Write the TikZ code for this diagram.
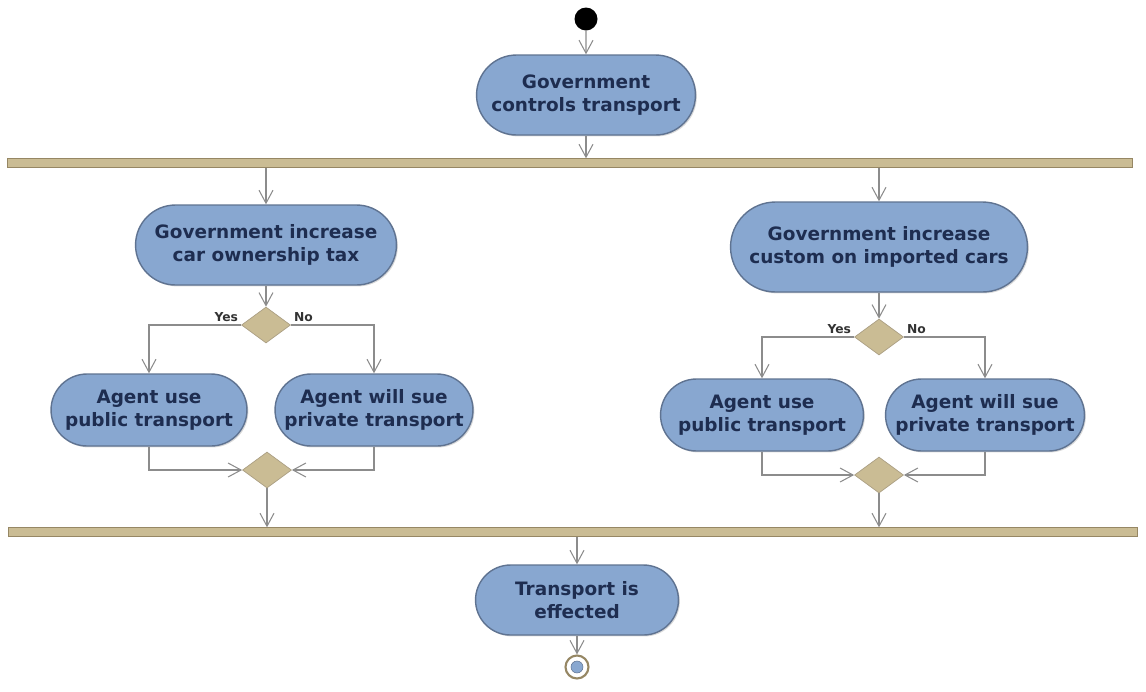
\documentclass[tikz,border=0pt]{standalone}
\usepackage{fontspec}
\setmainfont{DejaVu Sans}
\usetikzlibrary{shapes.misc,shapes.geometric,arrows.meta,shadows}

\definecolor{actblue}{RGB}{136,167,208}
\definecolor{actedge}{RGB}{95,115,145}
\definecolor{acttext}{RGB}{30,45,80}
\definecolor{tan}{RGB}{202,188,148}
\definecolor{tanedge}{RGB}{150,135,100}
\definecolor{flowgray}{RGB}{140,140,140}

\tikzset{
    activity/.style={rounded rectangle, fill=actblue, draw=actedge, line width=0.8pt,
        text=acttext, align=center, inner sep=2pt,
        font=\fontsize{10.5}{13}\selectfont\bfseries,
        drop shadow={shadow xshift=0.8pt, shadow yshift=-0.8pt, opacity=0.3}},
    decision/.style={diamond, fill=tan, draw=tanedge!80, line width=0.4pt,
        minimum width=0.98cm, minimum height=0.72cm, inner sep=0pt},
    syncbar/.style={rectangle, fill=tan, draw=tanedge, line width=0.5pt,
        minimum height=0.17cm, inner sep=0pt},
    flow/.style={draw=flowgray, line width=0.6pt,
        -{Straight Barb[length=2.6mm, width=2.8mm, line width=0.6pt]}},
    guard/.style={font=\fontsize{7}{8}\selectfont\bfseries, text=black!80, inner sep=1.5pt}
}

\begin{document}
\begin{tikzpicture}[x=0.02cm, y=-0.02cm]
        \useasboundingbox (0,0) rectangle (1146,691);

        \node[circle, fill=black, minimum size=0.46cm, inner sep=0pt] (start) at (586,19) {};
        \node[activity, minimum width=4.52cm, minimum height=1.6cm] (ctrl) at (586,95) {Government\\controls transport};

        \node[syncbar, minimum width=22.5cm] (fork) at (570,163) {};

        % left branch
        \node[activity, minimum width=5.36cm, minimum height=1.6cm] (tax) at (266,245) {Government increase\\car ownership tax};
        \node[decision] (decL) at (266,325) {};
        \node[activity, minimum width=4.06cm, minimum height=1.44cm] (pubL) at (149,410) {Agent use\\public transport};
        \node[activity, minimum width=4.1cm, minimum height=1.44cm] (privL) at (374,410) {Agent will sue\\private transport};
        \node[decision] (mergeL) at (267,470) {};

        % right branch
        \node[activity, minimum width=6.08cm, minimum height=1.8cm] (custom) at (879,247) {Government increase\\custom on imported cars};
        \node[decision] (decR) at (879,337) {};
        \node[activity, minimum width=4.2cm, minimum height=1.44cm] (pubR) at (762,415) {Agent use\\public transport};
        \node[activity, minimum width=4.12cm, minimum height=1.44cm] (privR) at (985,415) {Agent will sue\\private transport};
        \node[decision] (mergeR) at (879,475) {};

        \node[syncbar, minimum width=22.6cm] (join) at (573,532) {};

        \node[activity, minimum width=4.2cm, minimum height=1.4cm] (effect) at (577,600) {Transport is\\effected};
        \node[circle, draw=tanedge, fill=white, line width=1.2pt, minimum size=0.46cm, inner sep=0pt] (end) at (577,667) {};
        \node[circle, fill=actblue, draw=actedge, line width=0.3pt, minimum size=0.24cm, inner sep=0pt] at (end) {};

        \draw[flow] (start) -- (ctrl);
        \draw[flow] (ctrl.south) -- (ctrl.south |- fork.north);
        \draw[flow] (fork.south -| tax.north) -- (tax.north);
        \draw[flow] (fork.south -| custom.north) -- (custom.north);

        \draw[flow] (tax.south) -- (decL.north);
        \draw[flow] (decL.west) -| node[guard, pos=0, above left] {Yes} (pubL.north);
        \draw[flow] (decL.east) -| node[guard, pos=0, above right] {No} (privL.north);
        \draw[flow] (pubL.south) |- (mergeL.west);
        \draw[flow] (privL.south) |- (mergeL.east);
        \draw[flow] (mergeL.south) -- (mergeL.south |- join.north);

        \draw[flow] (custom.south) -- (decR.north);
        \draw[flow] (decR.west) -| node[guard, pos=0, above left] {Yes} (pubR.north);
        \draw[flow] (decR.east) -| node[guard, pos=0, above right] {No} (privR.north);
        \draw[flow] (pubR.south) |- (mergeR.west);
        \draw[flow] (privR.south) |- (mergeR.east);
        \draw[flow] (mergeR.south) -- (mergeR.south |- join.north);

        \draw[flow] (join.south -| effect.north) -- (effect.north);
        \draw[flow] (effect.south) -- (end.north);

\end{tikzpicture}
\end{document}
